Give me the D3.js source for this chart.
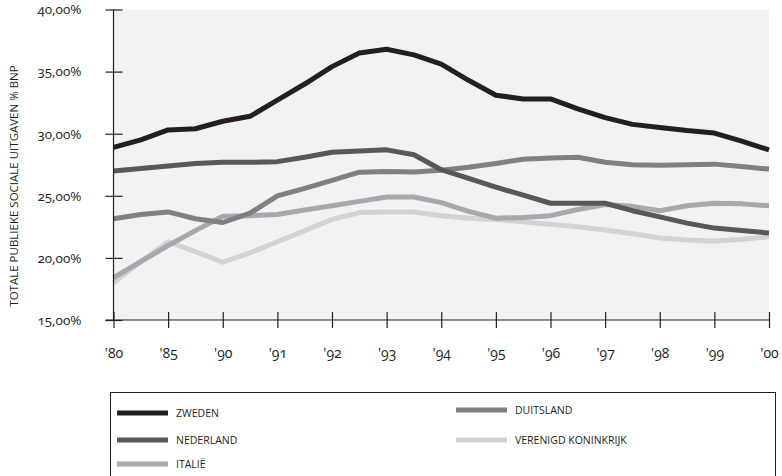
<!DOCTYPE html>
<html>
<head>
<meta charset="utf-8">
<script src="https://cdn.jsdelivr.net/npm/d3@7"></script>
<style>
  body { margin: 0; background: #fff; }
  svg text { font-family: "Open Sans", "Noto Sans", sans-serif; fill: #231f20; font-feature-settings: "onum"; }
</style>
</head>
<body>
<div id="chart-area"></div>
<script>
// tick labels on the x axis (evenly spaced)
var categories = ["'80", "'85", "'90", "'91", "'92", "'93", "'94", "'95", "'96", "'97", "'98", "'99", "'00"];
// vertex positions, in tick units (every half tick)
var positions = [0, 0.5, 1, 1.5, 2, 2.5, 3, 3.5, 4, 4.5, 5, 5.5, 6, 6.5, 7, 7.5, 8, 8.5, 9, 9.5, 10, 10.5, 11, 11.5, 12];
var yTicks = [15, 20, 25, 30, 35, 40];

var zweden      = [28.9, 29.5, 30.3, 30.4, 31.0, 31.4, 32.7, 34.0, 35.4, 36.5, 36.8, 36.35, 35.6, 34.3, 33.1, 32.8, 32.8, 32.0, 31.3, 30.75, 30.5, 30.25, 30.05, 29.4, 28.7];
var nederland   = [27.0, 27.2, 27.4, 27.6, 27.7, 27.7, 27.75, 28.1, 28.5, 28.6, 28.7, 28.3, 27.1, 26.4, 25.7, 25.05, 24.4, 24.4, 24.4, 23.8, 23.3, 22.8, 22.4, 22.2, 22.0];
var duitsland   = [23.15, 23.5, 23.7, 23.15, 22.85, 23.6, 25.0, 25.6, 26.25, 26.9, 26.95, 26.92, 27.05, 27.3, 27.6, 27.95, 28.05, 28.1, 27.7, 27.5, 27.45, 27.5, 27.55, 27.35, 27.15];
var italie      = [18.4, 19.7, 21.0, 22.2, 23.35, 23.4, 23.5, 23.85, 24.2, 24.55, 24.9, 24.9, 24.45, 23.75, 23.2, 23.25, 23.4, 23.9, 24.3, 24.15, 23.8, 24.2, 24.4, 24.35, 24.2];
var verenigdKon = [18.0, 19.7, 21.3, 20.5, 19.65, 20.4, 21.3, 22.2, 23.1, 23.65, 23.7, 23.7, 23.4, 23.2, 23.1, 22.9, 22.7, 22.5, 22.25, 21.95, 21.6, 21.45, 21.35, 21.5, 21.7];

var series = [
    { name: "VERENIGD KONINKRIJK", values: verenigdKon, color: "#d1d3d4" },
    { name: "ITALIË", values: italie, color: "#a7a9ac" },
    { name: "DUITSLAND", values: duitsland, color: "#808083" },
    { name: "NEDERLAND", values: nederland, color: "#58585a" },
    { name: "ZWEDEN", values: zweden, color: "#231f20" }
];

var width = 782, height = 476;
var plot = { left: 113.5, right: 769, top: 9.5, bottom: 320 };

var svg = d3.select("#chart-area")
    .append("svg")
        .attr("width", width)
        .attr("height", height);

// X Scale
var xLabel = d3.scalePoint()
    .domain(categories)
    .range([plot.left, plot.right]);
var x = d3.scaleLinear()
    .domain([0, categories.length - 1])
    .range([plot.left, plot.right]);

// Y Scale
var y = d3.scaleLinear()
    .domain([15, 40])
    .range([plot.bottom, plot.top]);

// plot background
svg.append("rect")
    .attr("x", plot.left)
    .attr("y", plot.top)
    .attr("width", plot.right - plot.left)
    .attr("height", plot.bottom - plot.top)
    .attr("fill", "#f1f2f4");

// lines
var line = d3.line()
    .x(function(d, i){ return x(positions[i]); })
    .y(function(d){ return y(d); });

svg.selectAll("path.series")
    .data(series)
    .enter()
    .append("path")
        .attr("class", "series")
        .attr("d", function(d){ return line(d.values); })
        .attr("fill", "none")
        .attr("stroke", function(d){ return d.color; })
        .attr("stroke-width", 5)
        .attr("stroke-linejoin", "round");

// Y Axis
var yAxisGroup = svg.append("g")
    .attr("transform", "translate(" + plot.left + ",0)")
    .call(d3.axisLeft(y)
        .tickValues(yTicks)
        .tickSize(8)
        .tickPadding(24)
        .tickFormat(function(d){ return d3.format(".2f")(d).replace(".", ",") + "%"; }));
yAxisGroup.select(".domain").remove();
yAxisGroup.selectAll(".tick line")
    .attr("x1", 9)
    .attr("stroke", "#231f20")
    .attr("stroke-width", 1.2);
yAxisGroup.selectAll(".tick text")
    .attr("font-size", "13.5px")
    .attr("font-weight", 500);
svg.append("line")
    .attr("x1", plot.left).attr("x2", plot.left)
    .attr("y1", plot.top).attr("y2", plot.bottom)
    .attr("stroke", "#231f20")
    .attr("stroke-width", 1.2);

// X Axis
var xAxisGroup = svg.append("g")
    .attr("transform", "translate(0," + plot.bottom + ")")
    .call(d3.axisBottom(xLabel)
        .tickSize(8)
        .tickPadding(20));
xAxisGroup.select(".domain").remove();
xAxisGroup.selectAll(".tick line")
    .attr("y1", -8)
    .attr("stroke", "#231f20")
    .attr("stroke-width", 1.2);
xAxisGroup.selectAll(".tick text")
    .attr("font-size", "14px")
    .attr("font-weight", 500);
svg.append("line")
    .attr("x1", plot.left - 8).attr("x2", plot.right)
    .attr("y1", plot.bottom).attr("y2", plot.bottom)
    .attr("stroke", "#231f20")
    .attr("stroke-width", 1.2);

// Y Label
svg.append("text")
    .attr("transform", "translate(18," + 186 + ") rotate(-90)")
    .attr("font-size", "11.5px")
    .attr("font-weight", 500)
    .attr("text-anchor", "middle")
    .text("TOTALE PUBLIEKE SOCIALE UITGAVEN % BNP");

// Legend
svg.append("rect")
    .attr("x", 110.5)
    .attr("y", 392.5)
    .attr("width", 665)
    .attr("height", 100)
    .attr("fill", "none")
    .attr("stroke", "#231f20")
    .attr("stroke-width", 1);

var legendItems = [
    { s: series[4], x: 117, y: 413 },
    { s: series[2], x: 456, y: 410 },
    { s: series[3], x: 117, y: 440 },
    { s: series[0], x: 456, y: 440 },
    { s: series[1], x: 117, y: 464 }
];
var leg = svg.selectAll("g.legend")
    .data(legendItems)
    .enter()
    .append("g")
        .attr("class", "legend")
        .attr("transform", function(d){ return "translate(" + d.x + "," + d.y + ")"; });
leg.append("line")
    .attr("x1", 0).attr("x2", 51)
    .attr("stroke", function(d){ return d.s.color; })
    .attr("stroke-width", 5);
leg.append("text")
    .attr("x", 59)
    .attr("dy", "0.35em")
    .attr("font-size", "10.5px")
    .attr("font-weight", 500)
    .text(function(d){ return d.s.name; });
</script>
</body>
</html>
